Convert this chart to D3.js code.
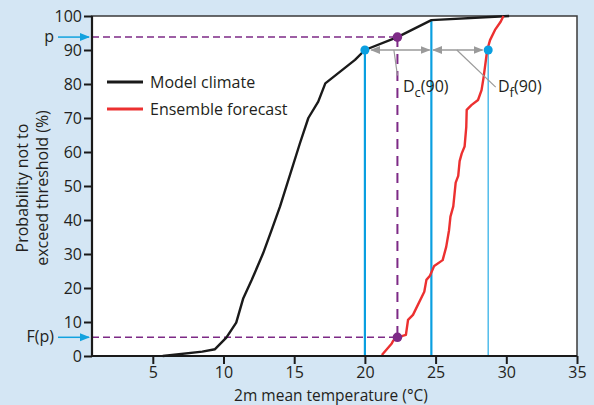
<!DOCTYPE html>
<html>
<head>
<meta charset="utf-8">
<script src="https://cdn.jsdelivr.net/npm/d3@7"></script>
<style>
  html, body { margin: 0; padding: 0; background: #d4e6f4; }
  svg { display: block; font-family: "Open Sans", "Noto Sans", sans-serif; }
</style>
</head>
<body>
<div id="chart"></div>
<script>
// model climate CDF (black)
const modelTemp = [5.7, 8.5, 9.4, 10.2, 10.9, 11.4, 12.0, 12.8, 13.4, 14.0, 15.4, 16.0, 16.7, 17.2, 19.3, 20.0, 22.3, 24.7, 30.2];
const modelProb = [0, 1.3, 2, 5.4, 9.8, 17, 22.4, 30.2, 37, 44, 62.5, 70, 74.8, 80.2, 87.1, 90, 93.8, 98.8, 100];

// ensemble forecast CDF (red)
const ensTemp = [21.2, 21.9, 22.0, 22.3, 22.9, 23.05, 23.4, 24.2, 24.35, 24.6, 24.9, 25.5, 25.75, 25.95, 26.05, 26.25, 26.42, 26.6, 26.7, 26.85, 27.05, 27.17, 27.2, 27.53, 28.0, 28.25, 28.4, 28.65, 28.85, 29.2, 29.6, 29.8];
const ensProb = [0.3, 3.7, 4.5, 5.5, 6.2, 10.6, 12.1, 18.9, 22.4, 23.6, 26.5, 28.2, 32.1, 37, 41, 44, 51, 53, 57.3, 59.6, 61.6, 67.4, 72.4, 73.8, 75.3, 78.2, 82.1, 90, 92.9, 95.9, 98.3, 100];

const xTicks = [5, 10, 15, 20, 25, 30, 35];
const yTicks = [0, 10, 20, 30, 40, 50, 60, 70, 80, 90, 100];

// key values
const pLevel = 93.8, fpLevel = 5.5, pTemp = 22.3;
const level90 = 90, climTemp90 = 20, climTop = 24.7, climTopProb = 98.8, ensTemp90 = 28.72;

const W = 594, H = 405;
const ink = '#231f20';
const svg = d3.select('#chart').append('svg')
    .attr('width', W).attr('height', H);

svg.append('rect').attr('width', W).attr('height', H).attr('fill', '#d4e6f4');

const x = d3.scaleLinear().domain([0.7, 35]).range([92, 577]);
const y = d3.scaleLinear().domain([0, 100]).range([356, 16]);

// plot area
svg.append('rect')
    .attr('x', x(0.7)).attr('y', y(100))
    .attr('width', x(35) - x(0.7)).attr('height', y(0) - y(100))
    .attr('fill', '#fff').attr('stroke', '#3a3a3a').attr('stroke-width', 1.5);

const defs = svg.append('defs');
const marker = (id, color) => defs.append('marker')
    .attr('id', id).attr('viewBox', '0 0 10 10')
    .attr('refX', 9).attr('refY', 5)
    .attr('markerWidth', 10).attr('markerHeight', 10)
    .attr('markerUnits', 'userSpaceOnUse')
    .attr('orient', 'auto-start-reverse')
    .append('path').attr('d', 'M0,1 L10,5 L0,9 Z').attr('fill', color);
marker('grey-arrow', '#9a9a9a');
marker('blue-arrow', '#12a2df');

const line = d3.line().x(d => x(d[0])).y(d => y(d[1]));

// purple dashed guides
const purple = '#7d2a86';
const dashed = [
    { pts: [[0.7, pLevel], [pTemp, pLevel]], w: 1.5, dash: '7,4' },
    { pts: [[0.7, fpLevel], [pTemp, fpLevel]], w: 1.5, dash: '7,4' },
    { pts: [[pTemp, pLevel], [pTemp, fpLevel]], w: 2, dash: '10,7' }
];
svg.append('g').selectAll('path').data(dashed).join('path')
    .attr('d', d => line(d.pts))
    .attr('fill', 'none').attr('stroke', purple)
    .attr('stroke-width', d => d.w).attr('stroke-dasharray', d => d.dash);

// blue verticals
const blues = [
    { t: climTemp90, top: level90, w: 2.2, c: '#0a9fe0' },
    { t: climTop, top: climTopProb, w: 2.2, c: '#0a9fe0' },
    { t: ensTemp90, top: level90, w: 1.4, c: '#45b8ea' }
];
svg.append('g').selectAll('line').data(blues).join('line')
    .attr('x1', d => x(d.t)).attr('x2', d => x(d.t))
    .attr('y1', d => y(d.top)).attr('y2', y(0))
    .attr('stroke', d => d.c).attr('stroke-width', d => d.w);

// curves
svg.append('path')
    .datum(modelTemp.map((t, i) => [t, modelProb[i]]))
    .attr('d', line).attr('fill', 'none')
    .attr('stroke', '#1a1a1a').attr('stroke-width', 2.4).attr('stroke-linejoin', 'round');

svg.append('path')
    .datum(ensTemp.map((t, i) => [t, ensProb[i]]))
    .attr('d', line).attr('fill', 'none')
    .attr('stroke', '#ec3030').attr('stroke-width', 2.4).attr('stroke-linejoin', 'round');

// grey double arrows for D_c(90) and D_f(90)
const gaps = [[climTemp90 + 0.45, climTop - 0.12], [climTop + 0.12, ensTemp90 - 0.4]];
svg.append('g').selectAll('line').data(gaps).join('line')
    .attr('x1', d => x(d[0])).attr('x2', d => x(d[1]))
    .attr('y1', y(level90)).attr('y2', y(level90))
    .attr('stroke', '#9a9a9a').attr('stroke-width', 1.5)
    .attr('marker-start', 'url(#grey-arrow)').attr('marker-end', 'url(#grey-arrow)');

// leader lines
svg.append('line')
    .attr('x1', x(22.05)).attr('y1', y(level90))
    .attr('x2', x(22.3)).attr('y2', y(82.5))
    .attr('stroke', '#9a9a9a').attr('stroke-width', 1.2);
svg.append('line')
    .attr('x1', x(26.5)).attr('y1', y(level90))
    .attr('x2', x(29.25)).attr('y2', y(79.1))
    .attr('stroke', '#9a9a9a').attr('stroke-width', 1.2);

// dots
svg.append('g').selectAll('circle')
    .data([[climTemp90, level90], [ensTemp90, level90]]).join('circle')
    .attr('cx', d => x(d[0])).attr('cy', d => y(d[1])).attr('r', 4.5).attr('fill', '#0a9fe0');
svg.append('g').selectAll('circle')
    .data([[pTemp, pLevel], [pTemp, fpLevel]]).join('circle')
    .attr('cx', d => x(d[0])).attr('cy', d => y(d[1])).attr('r', 4.8).attr('fill', purple);

// axes
const xAxis = svg.append('g').attr('transform', `translate(0,${y(0)})`)
    .call(d3.axisBottom(x).tickValues(xTicks).tickSize(8).tickPadding(3));
const yAxis = svg.append('g').attr('transform', `translate(${x(0.7)},0)`)
    .call(d3.axisLeft(y).tickValues(yTicks).tickSize(8).tickPadding(2));
[xAxis, yAxis].forEach(a => {
    a.select('.domain').attr('stroke', '#1a1a1a').attr('stroke-width', 2.2);
    a.selectAll('.tick line').attr('stroke', '#1a1a1a').attr('stroke-width', 2);
    a.selectAll('.tick text').attr('fill', ink)
        .style('font-size', '16px').style('font-family', '"Open Sans", sans-serif');
});
xAxis.select('.domain').attr('d', `M${x(0.7)},0H${x(35)}`);
yAxis.select('.domain').attr('d', `M0,${y(0)}V${y(100)}`);

// p and F(p) labels with blue arrows
const sideLabels = [{ txt: 'p', v: pLevel, x: 54 }, { txt: 'F(p)', v: fpLevel, x: 54 }];
sideLabels.forEach(s => {
    svg.append('line')
        .attr('x1', 58).attr('x2', x(0.7) - 3)
        .attr('y1', y(s.v)).attr('y2', y(s.v))
        .attr('stroke', '#12a2df').attr('stroke-width', 1.5)
        .attr('marker-end', 'url(#blue-arrow)');
    svg.append('text')
        .attr('x', s.x).attr('y', y(s.v)).attr('dy', '0.32em')
        .attr('text-anchor', 'end').attr('fill', ink)
        .style('font-size', '16px').text(s.txt);
});

// D labels
const dLabel = (px, py, sub) => {
    const t = svg.append('text').attr('x', px).attr('y', py)
        .attr('fill', ink).style('font-size', '16px');
    t.append('tspan').text('D');
    t.append('tspan').attr('dy', 5).style('font-size', '13px').text(sub);
    t.append('tspan').attr('dy', -5).text('(90)');
};
dLabel(403, 92, 'c');
dLabel(498, 92, 'f');

// legend
const legend = [{ label: 'Model climate', c: '#1a1a1a', yy: 82 }, { label: 'Ensemble forecast', c: '#ec3030', yy: 109 }];
legend.forEach(l => {
    svg.append('line').attr('x1', 107).attr('x2', 143).attr('y1', l.yy).attr('y2', l.yy)
        .attr('stroke', l.c).attr('stroke-width', 3);
    svg.append('text').attr('x', 150).attr('y', l.yy).attr('dy', '0.35em')
        .attr('fill', ink).style('font-size', '16px').text(l.label);
});

// axis titles
svg.append('text')
    .attr('transform', 'translate(28,188) rotate(-90)')
    .attr('text-anchor', 'middle').attr('fill', ink).style('font-size', '16px')
    .text('Probability not to');
svg.append('text')
    .attr('transform', 'translate(48,188) rotate(-90)')
    .attr('text-anchor', 'middle').attr('fill', ink).style('font-size', '16px')
    .text('exceed threshold (%)');
svg.append('text')
    .attr('x', 331).attr('y', 401)
    .attr('text-anchor', 'middle').attr('fill', ink).style('font-size', '15.5px')
    .text('2m mean temperature (°C)');
</script>
</body>
</html>
